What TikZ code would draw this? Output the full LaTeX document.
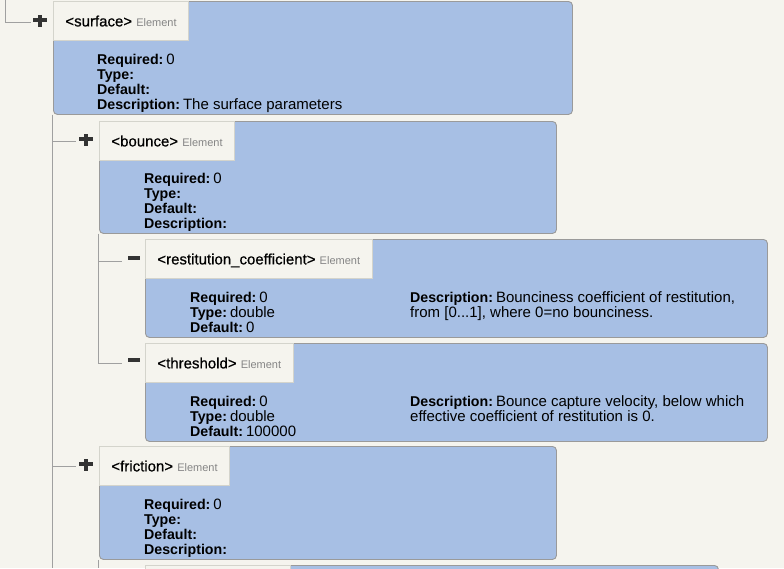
\documentclass[tikz,border=0pt]{standalone}
\usepackage{fontspec}
\setmainfont{Liberation Sans}
\newfontfamily\medfam{Liberation Sans}[FakeBold=0.6]
\definecolor{bg}{HTML}{F5F4EE}
\definecolor{boxblue}{HTML}{A7BFE4}
\definecolor{boxline}{HTML}{9A9A9A}
\definecolor{tabfill}{HTML}{F5F4EE}
\definecolor{tabline}{HTML}{D4D4CC}
\definecolor{treeline}{HTML}{A0A0A0}
\definecolor{signcol}{HTML}{333333}
\definecolor{elgray}{HTML}{858585}
\newcommand\lblfont{\medfam\fontsize{15}{16}\selectfont}
\newcommand\elfont{\normalfont\fontsize{11}{12}\selectfont\color{elgray}}
\newcommand\bodyfont{\fontsize{15}{15}\selectfont}
\newcommand\fld[1]{{\fontsize{14.2}{15}\selectfont\bfseries #1}\hspace{3pt}}
\tikzset{
  body/.style={draw=boxline, fill=boxblue, rounded corners=4pt, line width=0.9pt,
    anchor=north west, inner sep=0pt},
  tabbox/.style={draw=tabline, fill=tabfill, line width=0.8pt, anchor=north west,
    inner xsep=12pt, inner ysep=0pt, minimum height=39pt, text height=11pt, text depth=0pt,
    font=\lblfont},
  txt/.style={anchor=base west, inner sep=0pt, font=\bodyfont},
  tree/.style={draw=treeline, line width=0.9pt},
  plusmark/.style={minimum size=14pt, inner sep=0pt,
    path picture={
      \fill[signcol] ([xshift=-7pt,yshift=-0.2pt]path picture bounding box.center) rectangle ([xshift=7pt,yshift=4.2pt]path picture bounding box.center);
      \fill[signcol] ([xshift=-2.2pt,yshift=-5pt]path picture bounding box.center) rectangle ([xshift=2.2pt,yshift=9pt]path picture bounding box.center);
    }},
  minusmark/.style={minimum size=14pt, inner sep=0pt,
    path picture={
      \fill[signcol] ([xshift=-6pt,yshift=1.2pt]path picture bounding box.center) rectangle ([xshift=6pt,yshift=4.8pt]path picture bounding box.center);
    }},
}
\begin{document}
\begin{tikzpicture}[x=1pt,y=-1pt]
\useasboundingbox (0,0) rectangle (784,568);
\fill[bg] (0,0) rectangle (784,568);
\clip (0,0) rectangle (784,568);

% ---------- surface ----------
\node[body, minimum width=519pt, minimum height=113pt] (sbody) at (53,1) {};
\node[tabbox] (stab) at (53,1) {<surface> {\elfont Element}};
\node[plusmark] (splus) at (40,22) {};
\node[txt] (s1) at (97,64) {\fld{Required:}0};
\node[txt] (s2) at (97,79) {\fld{Type:}};
\node[txt] (s3) at (97,94) {\fld{Default:}};
\node[txt] (s4) at (97,109) {\fld{Description:}The surface parameters};

% ---------- bounce ----------
\node[body, minimum width=457pt, minimum height=112pt] (bbody) at (99,121) {};
\node[tabbox] (btab) at (99,121) {<bounce> {\elfont Element}};
\node[plusmark] (bplus) at (86,141) {};
\node[txt] (b1) at (144,183) {\fld{Required:}0};
\node[txt] (b2) at (144,198) {\fld{Type:}};
\node[txt] (b3) at (144,213) {\fld{Default:}};
\node[txt] (b4) at (144,228) {\fld{Description:}};

% ---------- restitution_coefficient ----------
\node[body, minimum width=622pt, minimum height=98pt] (rbody) at (145,239) {};
\node[tabbox] (rtab) at (145,239) {<restitution\_coefficient> {\elfont Element}};
\node[minusmark] (rminus) at (134,261) {};
\node[txt] (r1) at (190,302) {\fld{Required:}0};
\node[txt] (r2) at (190,317) {\fld{Type:}double};
\node[txt] (r3) at (190,332) {\fld{Default:}0};
\node[txt] (r4) at (410,302) {\fld{Description:}Bounciness coefficient of restitution,};
\node[txt] (r5) at (410,317) {from [0...1], where 0=no bounciness.};

% ---------- threshold ----------
\node[body, minimum width=622pt, minimum height=98pt] (tbody) at (145,343) {};
\node[tabbox] (ttab) at (145,343) {<threshold> {\elfont Element}};
\node[minusmark] (tminus) at (134,363) {};
\node[txt] (t1) at (190,406) {\fld{Required:}0};
\node[txt] (t2) at (190,421) {\fld{Type:}double};
\node[txt] (t3) at (190,436) {\fld{Default:}100000};
\node[txt] (t4) at (410,406) {\fld{Description:}Bounce capture velocity, below which};
\node[txt] (t5) at (410,421) {effective coefficient of restitution is 0.};

% ---------- friction ----------
\node[body, minimum width=457pt, minimum height=113pt] (fbody) at (99,446) {};
\node[tabbox] (ftab) at (99,446) {<friction> {\elfont Element}};
\node[plusmark] (fplus) at (86,466) {};
\node[txt] (f1) at (144,509) {\fld{Required:}0};
\node[txt] (f2) at (144,524) {\fld{Type:}};
\node[txt] (f3) at (144,539) {\fld{Default:}};
\node[txt] (f4) at (144,554) {\fld{Description:}};

% ---------- next element (cut off) ----------
\node[body, minimum width=573pt, minimum height=100pt] (nbody) at (145,565) {};
\node[tabbox, minimum width=145pt] (ntab) at (145,565) {};

% ---------- tree connectors ----------
\coordinate (top) at (5,0);
\coordinate (bot1) at (52,568);
\coordinate (bot2) at (98,568);
\draw[tree, shorten >=2pt] (top) |- (splus.west);
\draw[tree, shorten >=3pt] ([xshift=-1pt]sbody.south west) |- (bplus.west);
\draw[tree, shorten >=3pt] ([xshift=-1pt]sbody.south west) |- (fplus.west);
\draw[tree] ([xshift=-1pt]sbody.south west) -- (bot1);
\draw[tree, shorten >=5pt] ([xshift=-1pt]bbody.south west) |- (rminus.west);
\draw[tree, shorten >=5pt] ([xshift=-1pt]bbody.south west) |- (tminus.west);
\draw[tree] ([xshift=-1pt]fbody.south west) -- (bot2);
\end{tikzpicture}
\end{document}
